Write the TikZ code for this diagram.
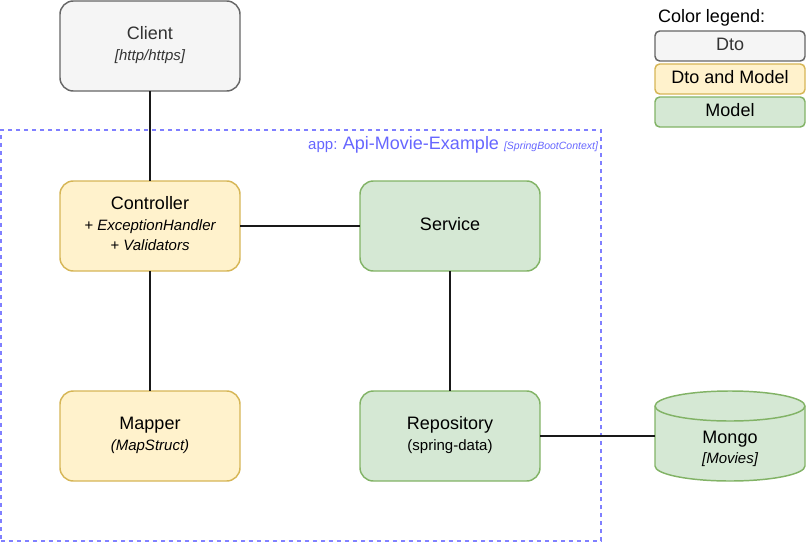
\documentclass[tikz,border=0pt]{standalone}
\usepackage{fontspec}
\setmainfont{Liberation Sans}
\definecolor{grayfill}{HTML}{F5F5F5}
\definecolor{grayline}{HTML}{666666}
\definecolor{graytext}{HTML}{333333}
\definecolor{yelfill}{HTML}{FFF2CC}
\definecolor{yelline}{HTML}{D6B656}
\definecolor{grnfill}{HTML}{D5E8D4}
\definecolor{grnline}{HTML}{82B366}
\definecolor{appline}{HTML}{7F7FFF}
\definecolor{apptext}{HTML}{6666FF}
\newcommand{\mysubfont}{\fontsize{11.25}{15.6}\selectfont}
\newcommand{\mylines}[2]{\begin{tabular}{@{}c@{}}#1\\{\mysubfont #2}\end{tabular}}
\newcommand{\myone}[1]{\begin{tabular}{@{}c@{}}#1\end{tabular}}
\tikzset{
  base/.style={draw, line width=1.1pt, inner sep=0pt, outer sep=0pt,
    font=\fontsize{13.5}{15.6}\selectfont},
  box/.style={base, rounded corners=10pt, minimum width=135pt, minimum height=67.5pt},
  legbox/.style={base, rounded corners=3.5pt, minimum width=112.5pt, minimum height=22.5pt},
  dtostyle/.style={fill=grayfill, draw=grayline, text=graytext},
  bothstyle/.style={fill=yelfill, draw=yelline, text=black},
  modelstyle/.style={fill=grnfill, draw=grnline, text=black},
  conn/.style={line width=1.1pt, draw=black!90},
  container/.style={draw=appline, line width=1.1pt, dash pattern=on 3pt off 3pt,
    minimum width=450pt, minimum height=308.25pt, inner sep=0pt, outer sep=0pt},
  plain/.style={inner sep=0pt, outer sep=0pt, font=\fontsize{13.5}{15.6}\selectfont}
}
\begin{document}
\begin{tikzpicture}[x=0.75pt, y=-0.75pt]
\useasboundingbox (0,0) rectangle (806,542);

% container
\node[container] (app) at (301,335.5) {};
\node[plain, anchor=base east, text=apptext] (applabel) at (598,149)
  {{\fontsize{11.25}{13}\selectfont app: }{\fontsize{13.5}{16}\selectfont Api-Movie-Example} {\fontsize{7.875}{9}\selectfont\itshape [SpringBootContext]}};

% boxes
\node[box, dtostyle] (client) at (150,46) {\mylines{Client}{\itshape [http/https]}};
\node[box, bothstyle] (ctrl) at (150,226)
  {\begin{tabular}{@{}c@{}}Controller\\{\mysubfont\itshape + ExceptionHandler}\\{\mysubfont\itshape + Validators}\end{tabular}};
\node[box, modelstyle] (service) at (450,226) {\myone{Service}};
\node[box, bothstyle] (mapper) at (150,436) {\mylines{Mapper}{\itshape (MapStruct)}};
\node[box, modelstyle] (repo) at (450,436) {\mylines{Repository}{(spring-data)}};

% mongo cylinder
\node[inner sep=0pt, outer sep=0pt, minimum width=112.5pt, minimum height=67.5pt] (mongo) at (730,436) {};
\draw[line width=1.1pt, draw=grnline, fill=grnfill]
  (655,406) -- (655,466) arc[start angle=180, end angle=360, x radius=56.25pt, y radius=11.25pt]
  -- (805,406) arc[start angle=0, end angle=180, x radius=56.25pt, y radius=11.25pt] -- cycle;
\draw[line width=1.1pt, draw=grnline]
  (655,406) arc[start angle=180, end angle=360, x radius=56.25pt, y radius=11.25pt];
\node[plain, font=\fontsize{13.5}{15}\selectfont] (mongotext) at (730,449.3)
  {\begin{tabular}{@{}c@{}}Mongo\\{\fontsize{11.25}{15}\selectfont\itshape [Movies]}\end{tabular}};

% legend
\node[plain, anchor=base west] (legtitle) at (658,22.7) {Color legend:};
\node[legbox, dtostyle] (legdto) at (730,46) {\myone{Dto}};
\node[legbox, bothstyle] (legboth) at (730,79) {\myone{Dto and Model}};
\node[legbox, modelstyle] (legmodel) at (730,112) {\myone{Model}};

% connectors
\draw[conn] (client) -- (ctrl);
\draw[conn] (ctrl) -- (service);
\draw[conn] (ctrl) -- (mapper);
\draw[conn] (service) -- (repo);
\draw[conn] (repo.east) -- (repo.east -| mongo.west);
\end{tikzpicture}
\end{document}
